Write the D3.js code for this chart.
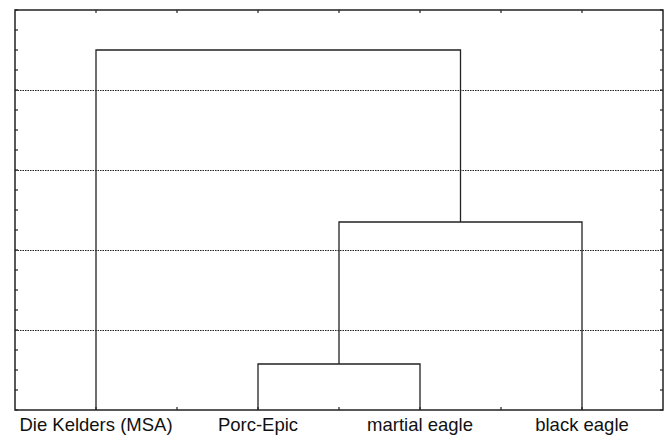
<!DOCTYPE html>
<html>
<head>
<meta charset="utf-8">
<script src="https://cdn.jsdelivr.net/npm/d3@7"></script>
<style>
html,body{margin:0;padding:0;background:#fff;}
svg{display:block;}
</style>
</head>
<body>
<svg id="chart" width="670" height="435"></svg>
<script>
// Leaves (categories) in display order
const leaves = ["Die Kelders (MSA)", "Porc-Epic", "martial eagle", "black eagle"];
// Merges: [left member, right member, linkage height]
const mergeLeft  = ["Porc-Epic", "c1", "Die Kelders (MSA)"];
const mergeRight = ["martial eagle", "black eagle", "c2"];
const mergeIds   = ["c1", "c2", "c3"];
const mergeHeights = [11.5, 47, 90];
// Y axis range (no labels shown in the reference)
const yDomain = [0, 100];
const yGridTicks = [20, 40, 60, 80];
const yMinorTicks = d3.range(0, 101, 5);

const margin = {left: 15, right: 7, top: 10, bottom: 25};
const W = 670, H = 435;
const svg = d3.select("#chart");
const x = d3.scaleBand().domain(leaves).range([margin.left, W - margin.right]).padding(0);
const y = d3.scaleLinear().domain(yDomain).range([H - margin.bottom, margin.top]);

// grid
svg.append("g").selectAll("line").data(yGridTicks).join("line")
  .attr("x1", margin.left).attr("x2", W - margin.right)
  .attr("y1", d => Math.round(y(d)) + 0.5).attr("y2", d => Math.round(y(d)) + 0.5)
  .attr("stroke", "#222").attr("stroke-width", 1).attr("stroke-dasharray", "1.5,1");

// node positions
const pos = {};
leaves.forEach(l => pos[l] = {x: x(l) + x.bandwidth() / 2, h: 0});
const links = [];
mergeIds.forEach((id, i) => {
  const a = pos[mergeLeft[i]], b = pos[mergeRight[i]], h = mergeHeights[i];
  links.push({a, b, h});
  pos[id] = {x: (a.x + b.x) / 2, h};
});

const g = svg.append("g").attr("fill", "none").attr("stroke", "#222").attr("stroke-width", 1.3);
g.selectAll("path").data(links).join("path")
  .attr("d", d => `M${d.a.x},${y(d.a.h)}V${y(d.h)}H${d.b.x}V${y(d.b.h)}`);

// tick marks (inward) on all sides
const tickLen = 3;
const xTickPos = [];
leaves.forEach((l, i) => {
  if (i > 0) xTickPos.push(x(l));
  xTickPos.push(x(l) + x.bandwidth() / 2);
});
const tg = svg.append("g").attr("stroke", "#222").attr("stroke-width", 1.2);
tg.selectAll(".lt").data(yMinorTicks).join("line")
  .attr("x1", margin.left).attr("x2", margin.left + tickLen)
  .attr("y1", d => y(d)).attr("y2", d => y(d));
tg.selectAll(".rt").data(yMinorTicks).join("line")
  .attr("x1", W - margin.right).attr("x2", W - margin.right - tickLen)
  .attr("y1", d => y(d)).attr("y2", d => y(d));
tg.selectAll(".tt").data(xTickPos).join("line")
  .attr("x1", d => d).attr("x2", d => d)
  .attr("y1", margin.top).attr("y2", margin.top + tickLen);
tg.selectAll(".bt").data(xTickPos).join("line")
  .attr("x1", d => d).attr("x2", d => d)
  .attr("y1", H - margin.bottom).attr("y2", H - margin.bottom - tickLen);

// frame
svg.append("rect")
  .attr("x", margin.left).attr("y", margin.top)
  .attr("width", W - margin.left - margin.right)
  .attr("height", H - margin.top - margin.bottom)
  .attr("fill", "none").attr("stroke", "#222").attr("stroke-width", 1.5);

// labels
svg.append("g").selectAll("text").data(leaves).join("text")
  .attr("x", d => x(d) + x.bandwidth() / 2)
  .attr("y", 430.5)
  .attr("text-anchor", "middle")
  .attr("font-family", "Liberation Sans, Arial, sans-serif")
  .attr("font-size", 18.5)
  .attr("fill", "#111")
  .text(d => d);
</script>
</body>
</html>
